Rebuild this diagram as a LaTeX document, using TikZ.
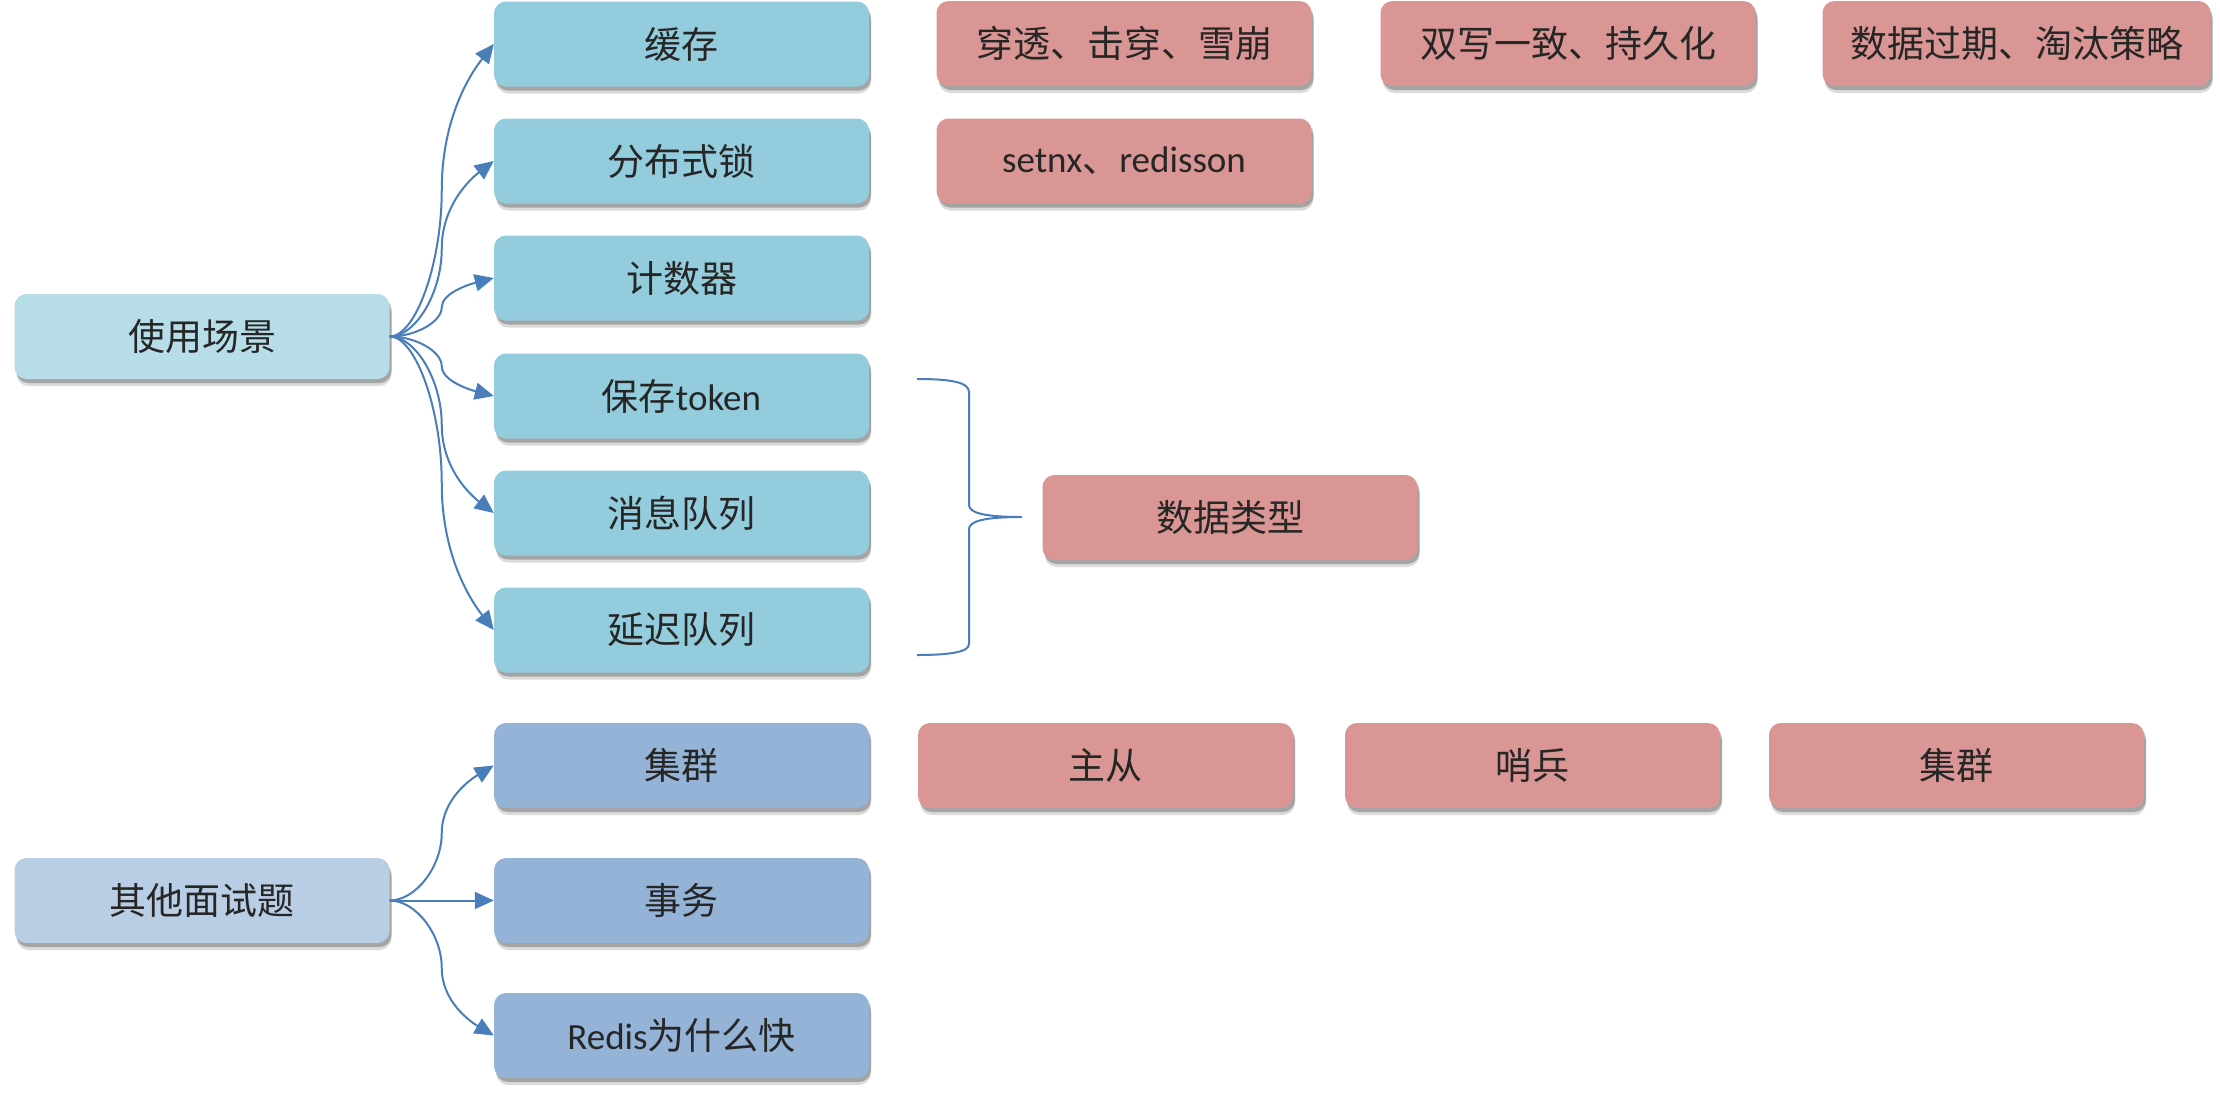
\documentclass[tikz,border=0pt]{standalone}
\usepackage{fontspec}
\setmainfont{Carlito}
\newfontfamily\cjk{Noto Sans CJK SC}
\usetikzlibrary{arrows.meta,shadows,calc}
\definecolor{rootA}{HTML}{B7DDE8}
\definecolor{childA}{HTML}{93CDDD}
\definecolor{rootB}{HTML}{B9CDE5}
\definecolor{childB}{HTML}{95B3D7}
\definecolor{pinkbox}{HTML}{D99694}
\definecolor{link}{HTML}{4A7EBB}
\definecolor{txt}{HTML}{262626}
\begin{document}
\begin{tikzpicture}[x=1pt,y=-1pt,
  box/.style={rectangle, rounded corners=12pt, minimum width=375pt, minimum height=85pt,
    inner sep=0pt, text=txt, font=\fontsize{37}{44}\selectfont,
    drop shadow={shadow xshift=2pt, shadow yshift=-4pt, fill=black, opacity=0.25},
    drop shadow={shadow xshift=2pt, shadow yshift=-7pt, fill=black, opacity=0.14}},
  rootAbox/.style={box, fill=rootA},
  childAbox/.style={box, fill=childA},
  rootBbox/.style={box, fill=rootB},
  childBbox/.style={box, fill=childB},
  pinkb/.style={box, fill=pinkbox},
  tipshape/.style={-{Triangle[length=19pt,width=17pt]}},
  conn/.style={draw=link, line width=2pt, tipshape,
    to path={let \p1=(\tikztostart), \p2=(\tikztotarget) in
      .. controls ({0.75*\x1+0.25*\x2},\y1) and ({0.5*\x1+0.5*\x2},{0.75*\y1+0.25*\y2})
      .. ({0.5*\x1+0.5*\x2},{0.5*\y1+0.5*\y2})
      .. controls ({0.5*\x1+0.5*\x2},{0.25*\y1+0.75*\y2}) and ({0.22*\x1+0.78*\x2},{\y2-0.1*(\y2-\y1)})
      .. (\tikztotarget)}},
  bracket/.style={draw=link, line width=2pt}
]
\useasboundingbox (0,0) rectangle (2220,1096);

% group A
\node[rootAbox] (rA) at (202,336.5) {\cjk 使用场景};
\node[childAbox] (a1) at (681.5,44) {\cjk 缓存};
\node[childAbox] (a2) at (681.5,161) {\cjk 分布式锁};
\node[childAbox] (a3) at (681.5,278) {\cjk 计数器};
\node[childAbox] (a4) at (681.5,396) {{\cjk 保存}token};
\node[childAbox] (a5) at (681.5,513) {\cjk 消息队列};
\node[childAbox] (a6) at (681.5,630) {\cjk 延迟队列};

% pink details
\node[pinkb] (p1) at (1124,43.5) {\cjk 穿透、击穿、雪崩};
\node[pinkb] (p2) at (1568,43.5) {\cjk 双写一致、持久化};
\node[pinkb, minimum width=388pt] (p3) at (2016.5,43.5) {\cjk 数据过期、淘汰策略};
\node[pinkb] (p4) at (1124,161) {setnx{\cjk 、}redisson};
\node[pinkb] (p5) at (1230,517.5) {\cjk 数据类型};

% group B
\node[rootBbox] (rB) at (202,900.5) {\cjk 其他面试题};
\node[childBbox] (b1) at (681.5,765.5) {\cjk 集群};
\node[childBbox] (b2) at (681.5,900.5) {\cjk 事务};
\node[childBbox] (b3) at (681.5,1035.5) {Redis{\cjk 为什么快}};

\node[pinkb] (q1) at (1105.5,765.5) {\cjk 主从};
\node[pinkb] (q2) at (1532.5,765.5) {\cjk 哨兵};
\node[pinkb] (q3) at (1956.5,765.5) {\cjk 集群};

% connectors
\foreach \t in {a1,a2,a3,a4,a5,a6} \draw[conn] (rA.east) to (\t.west);
\draw[conn] (rB.east) to (b1.west);
\draw[draw=link, line width=2pt, tipshape] (rB.east) -- (b2.west);
\draw[conn] (rB.east) to (b3.west);

% brace
\draw[bracket] (917,379) .. controls (950,379) and (969,382) .. (969,392) -- (969,505)
  .. controls (969,513) and (985,517) .. (1022,517)
  .. controls (985,517) and (969,521) .. (969,529) -- (969,644)
  .. controls (969,652) and (950,655) .. (917,655);
\end{tikzpicture}
\end{document}
